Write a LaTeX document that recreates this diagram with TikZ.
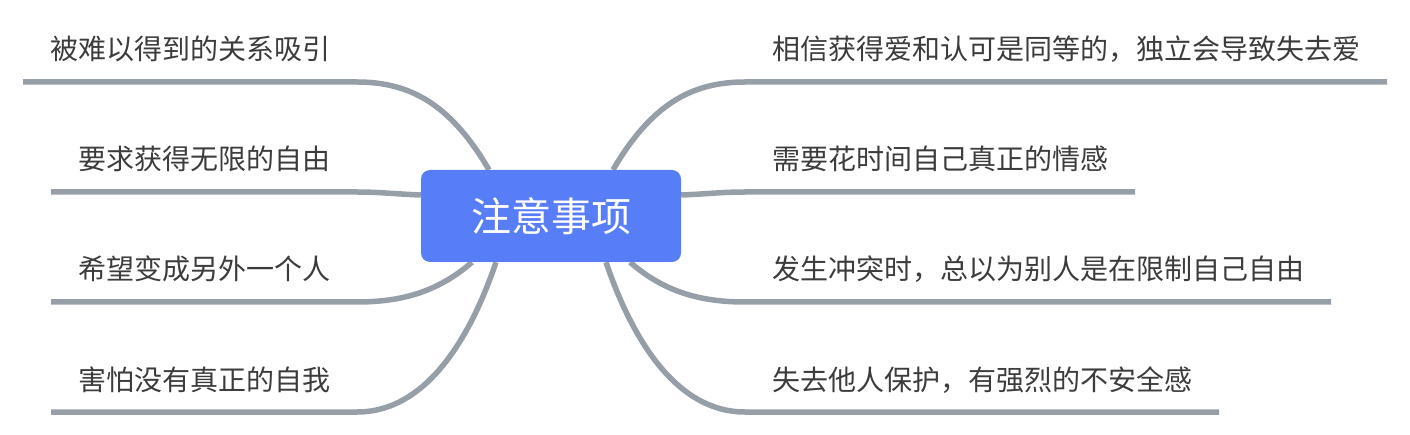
\documentclass[tikz,border=0pt]{standalone}
\usepackage{fontspec}
\setmainfont{Noto Sans CJK SC}
\usetikzlibrary{backgrounds}
\definecolor{linec}{RGB}{150,158,167}
\definecolor{boxc}{RGB}{88,126,247}
\definecolor{txtc}{RGB}{60,60,60}
\begin{document}
\begin{tikzpicture}[x=1pt,y=-1pt,
  branch/.style={draw=linec, line width=5.5pt},
  lbl/.style={anchor=base west, inner sep=0pt, text=txtc, font=\fontsize{28pt}{34pt}\selectfont},
  rootbox/.style={fill=boxc, rounded corners=9pt, minimum width=260pt, minimum height=92pt, inner sep=0pt, text=white, font=\fontsize{40pt}{48pt}\selectfont}]
\useasboundingbox (0,0) rectangle (1410,435);

\node[rootbox] (root) at (551,216) {注意事项};

% left labels
\node[lbl] (l1) at (50,60) {被难以得到的关系吸引};
\node[lbl] (l2) at (78,170) {要求获得无限的自由};
\node[lbl] (l3) at (78,280) {希望变成另外一个人};
\node[lbl] (l4) at (78,390) {害怕没有真正的自我};
% right labels
\node[lbl] (r1) at (772,60) {相信获得爱和认可是同等的，独立会导致失去爱};
\node[lbl] (r2) at (772,170) {需要花时间自己真正的情感};
\node[lbl] (r3) at (772,280) {发生冲突时，总以为别人是在限制自己自由};
\node[lbl] (r4) at (772,390) {失去他人保护，有强烈的不安全感};

% underline end points
\coordinate (l1a) at (23,82);  \coordinate (l1b) at (357,82);
\coordinate (l2a) at (51,192); \coordinate (l2b) at (357,192);
\coordinate (l3a) at (51,302); \coordinate (l3b) at (357,302);
\coordinate (l4a) at (51,412); \coordinate (l4b) at (357,412);
\coordinate (r1a) at (745,82);  \coordinate (r1b) at (1387,82);
\coordinate (r2a) at (745,192); \coordinate (r2b) at (1135,192);
\coordinate (r3a) at (745,302); \coordinate (r3b) at (1331,302);
\coordinate (r4a) at (745,412); \coordinate (r4b) at (1219,412);

% attachment points on the root box
\coordinate (c1l) at ([xshift=-62pt]root.north);
\coordinate (c1r) at ([xshift=62pt]root.north);
\coordinate (c2l) at ([yshift=21pt]root.west);
\coordinate (c2r) at ([yshift=21pt]root.east);
\coordinate (c3l) at ([xshift=-79pt]root.south);
\coordinate (c3r) at ([xshift=79pt]root.south);
\coordinate (c4l) at ([xshift=-55pt]root.south);
\coordinate (c4r) at ([xshift=55pt]root.south);

\begin{scope}[on background layer]
% left branches
\draw[branch] (c1l) .. controls (451,105) and (411,82) .. (l1b) -- (l1a);
\draw[branch] (c2l) .. controls (395,194) and (380,192) .. (l2b) -- (l2a);
\draw[branch] (c3l) .. controls (440,290) and (405,302) .. (l3b) -- (l3a);
\draw[branch] (c4l) .. controls (473,330) and (430,412) .. (l4b) -- (l4a);
% right branches
\draw[branch] (c1r) .. controls (651,105) and (691,82) .. (r1a) -- (r1b);
\draw[branch] (c2r) .. controls (707,194) and (722,192) .. (r2a) -- (r2b);
\draw[branch] (c3r) .. controls (662,290) and (697,302) .. (r3a) -- (r3b);
\draw[branch] (c4r) .. controls (629,330) and (672,412) .. (r4a) -- (r4b);
\end{scope}
\end{tikzpicture}
\end{document}
